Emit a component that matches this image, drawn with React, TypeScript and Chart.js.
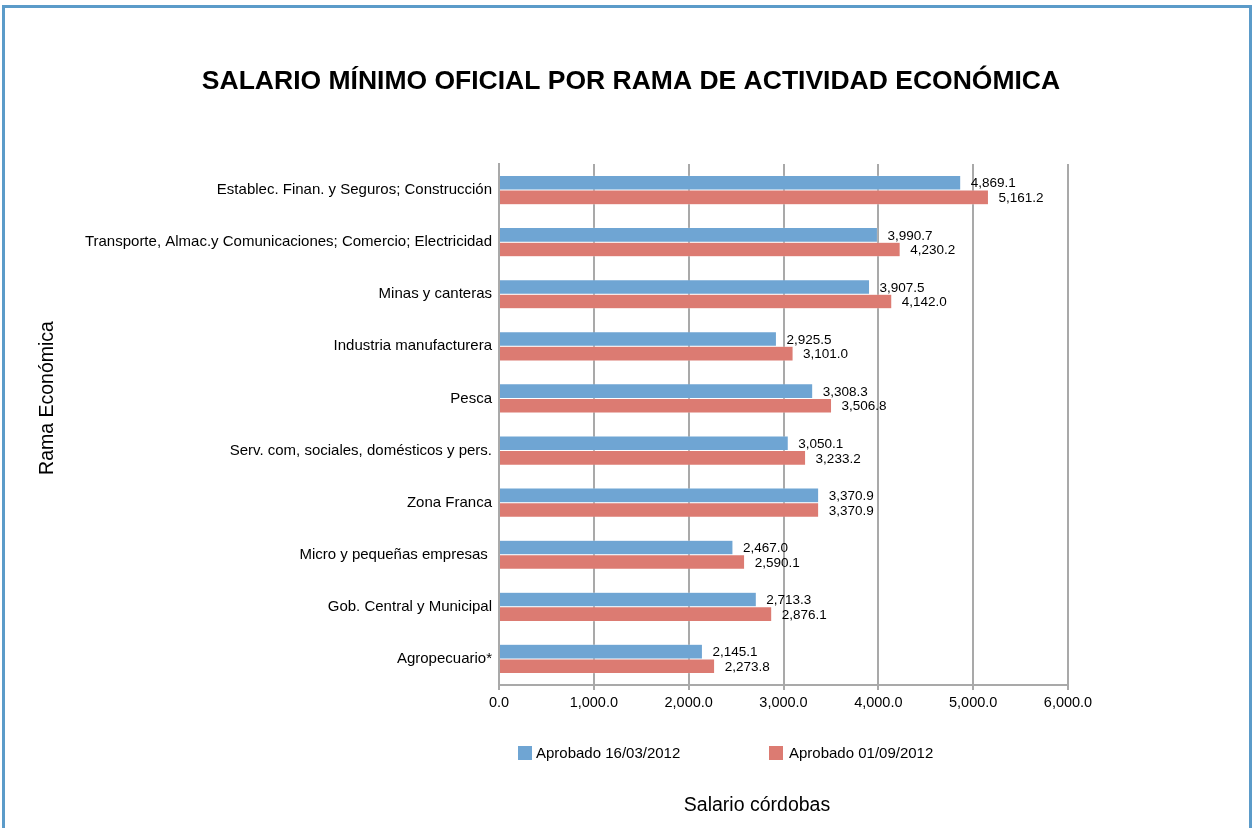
import React, { useEffect, useRef } from "react";
import { Chart, registerables } from "chart.js";

Chart.register(...registerables);

const TITLE = "SALARIO MÍNIMO OFICIAL POR RAMA DE ACTIVIDAD ECONÓMICA";
const Y_TITLE = "Rama Económica";
const X_TITLE = "Salario córdobas";

const categories = [
  "Establec. Finan. y Seguros; Construcción",
  "Transporte, Almac.y Comunicaciones; Comercio; Electricidad",
  "Minas y canteras",
  "Industria manufacturera",
  "Pesca",
  "Serv. com, sociales, domésticos y pers.",
  "Zona Franca",
  "Micro y pequeñas empresas ",
  "Gob. Central y Municipal",
  "Agropecuario*",
];

const seriesNames = ["Aprobado 16/03/2012", "Aprobado 01/09/2012"];

const aprobadoMarzo = [4869.1, 3990.7, 3907.5, 2925.5, 3308.3, 3050.1, 3370.9, 2467.0, 2713.3, 2145.1];
const aprobadoSeptiembre = [5161.2, 4230.2, 4142.0, 3101.0, 3506.8, 3233.2, 3370.9, 2590.1, 2876.1, 2273.8];

const xTicks = [0, 1000, 2000, 3000, 4000, 5000, 6000];

const COLORS = ["#6fa5d3", "#dc7b72"];
const FONT = '"Liberation Sans", Arial, sans-serif';
const GRID = "#a9a9a9";

const fmt = (v: number) =>
  Number(v).toLocaleString("en-US", { minimumFractionDigits: 1, maximumFractionDigits: 1 });

const textPlugin = {
  id: "textPlugin",
  afterDatasetsDraw(chart: any) {
    const ctx = chart.ctx;
    ctx.save();
    ctx.fillStyle = "#000";
    ctx.font = `13.5px ${FONT}`;
    ctx.textAlign = "left";
    ctx.textBaseline = "middle";
    chart.data.datasets.forEach((ds: any, di: number) => {
      const meta = chart.getDatasetMeta(di);
      meta.data.forEach((el: any, i: number) => {
        ctx.fillText(fmt(ds.data[i]), el.x + 10, el.y + 1);
      });
    });
    ctx.restore();
  },
  afterDraw(chart: any) {
    const ctx = chart.ctx;
    const area = chart.chartArea;
    ctx.save();
    ctx.fillStyle = "#000";
    // title
    ctx.font = `bold 26.5px ${FONT}`;
    ctx.textAlign = "center";
    ctx.textBaseline = "middle";
    ctx.fillText(TITLE, 631, 82);
    // x title
    ctx.font = `19.5px ${FONT}`;
    ctx.fillText(X_TITLE, 757, 806);
    // y title
    ctx.save();
    ctx.translate(48, 398);
    ctx.rotate(-Math.PI / 2);
    ctx.fillText(Y_TITLE, 0, 0);
    ctx.restore();
    // legend
    const legendX = [518, 769];
    const legendY = area.bottom + 68;
    ctx.font = `15px ${FONT}`;
    ctx.textAlign = "left";
    seriesNames.forEach((name, i) => {
      ctx.fillStyle = COLORS[i];
      ctx.fillRect(legendX[i], legendY - 7, 14, 14);
      ctx.fillStyle = "#000";
      ctx.fillText(name, legendX[i] + 18 + (i === 1 ? 2 : 0), legendY + 1);
    });
    ctx.restore();
  },
};

export default function App() {
  const ref = useRef<HTMLCanvasElement | null>(null);

  useEffect(() => {
    if (!ref.current) return;
    const chart = new Chart(ref.current, {
      type: "bar",
      data: {
        labels: categories,
        datasets: [
          {
            label: seriesNames[0],
            data: aprobadoMarzo,
            backgroundColor: COLORS[0],
            borderColor: "rgba(255,255,255,0.5)",
            borderWidth: 0.5,
          },
          {
            label: seriesNames[1],
            data: aprobadoSeptiembre,
            backgroundColor: COLORS[1],
            borderColor: "rgba(255,255,255,0.5)",
            borderWidth: 0.5,
          },
        ],
      },
      options: {
        indexAxis: "y",
        responsive: false,
        animation: false,
        datasets: { bar: { categoryPercentage: 0.56, barPercentage: 1 } },
        layout: { padding: { left: 0, top: 164, right: 185, bottom: 113 } },
        plugins: {
          legend: { display: false },
          title: { display: false },
          tooltip: { enabled: false },
        },
        scales: {
          x: {
            min: 0,
            max: 6000,
            afterBuildTicks: (s: any) => {
              s.ticks = xTicks.map((v) => ({ value: v }));
            },
            afterFit: (s: any) => {
              s.height = 30;
            },
            grid: { color: GRID, lineWidth: 2, tickLength: 5, drawTicks: true },
            border: { display: true, color: GRID, width: 2 },
            ticks: {
              color: "#000",
              font: { family: FONT, size: 14.5 },
              padding: 4,
              maxRotation: 0,
              callback: (v: any) => fmt(v),
            },
          },
          y: {
            afterFit: (s: any) => {
              s.width = 499;
            },
            grid: { display: false, drawTicks: false },
            border: { display: true, color: GRID, width: 2 },
            ticks: {
              color: "#000",
              font: { family: FONT, size: 15 },
              padding: 7,
              autoSkip: false,
            },
          },
        },
      },
      plugins: [textPlugin],
    } as any);
    return () => chart.destroy();
  }, []);

  return (
    <div
      style={{
        position: "fixed",
        left: 0,
        top: 0,
        width: 1253,
        height: 828,
        overflow: "hidden",
        background: "#fff",
      }}
    >
      <div
        style={{
          position: "absolute",
          left: 2,
          top: 5,
          width: 1244,
          height: 900,
          border: "3px solid #5b9bc9",
        }}
      />
      <canvas
        ref={ref}
        width={1253}
        height={828}
        style={{ position: "absolute", left: 0, top: 0, width: 1253, height: 828 }}
      />
    </div>
  );
}
